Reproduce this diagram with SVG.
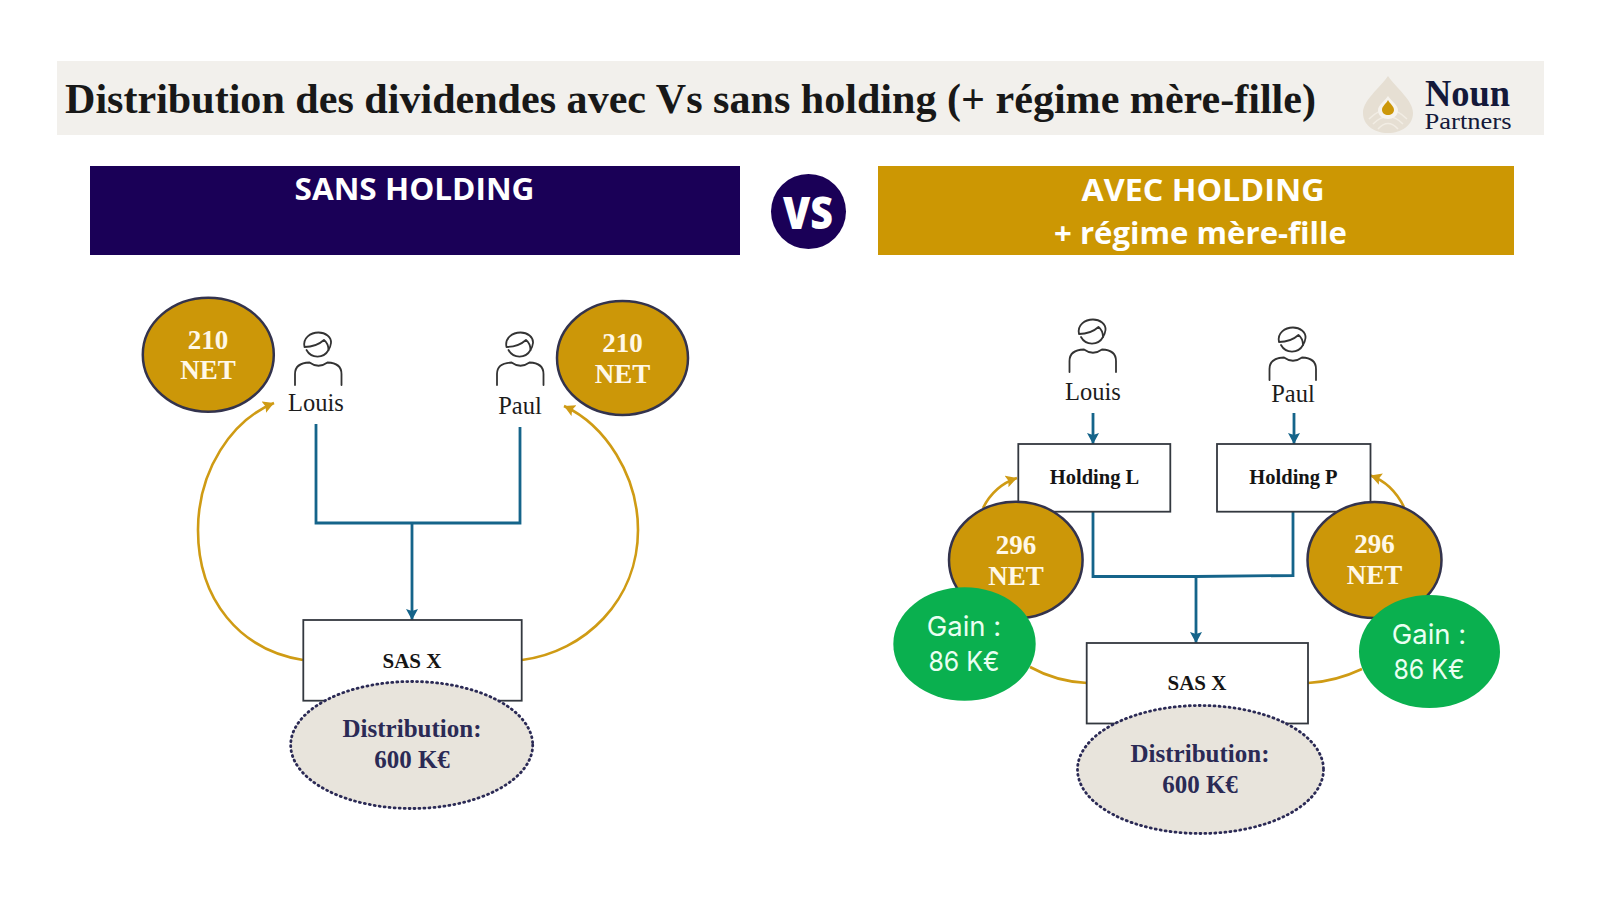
<svg xmlns="http://www.w3.org/2000/svg" xmlns:xlink="http://www.w3.org/1999/xlink" width="1600" height="900" viewBox="0 0 1600 900">
<style>
text{text-anchor:middle}
.ban{font-family:"Open Sans","Noto Sans",sans-serif;font-weight:700;font-size:31px;fill:#fff}
.ser{font-family:"Liberation Serif",serif}
.net{font-family:"Liberation Serif",serif;font-weight:700;font-size:27px;fill:#fff8e8}
.gold{fill:#cc9708;stroke:#33334d;stroke-width:2.500}
.green{fill:#0ab04f}
.gain{font-family:"Inter","Noto Sans",sans-serif;font-size:27.500px;fill:#eafff2}
.box{fill:#fff;stroke:#33383f;stroke-width:1.800}
.boxt{font-family:"Liberation Serif",serif;font-weight:700;fill:#151515}
.dist{fill:#e8e4dc;stroke:#2b2a55;stroke-width:2.800;stroke-dasharray:1 4;stroke-linecap:round}
.distt{font-family:"Liberation Serif",serif;font-weight:700;font-size:25px;fill:#2b2a55}
.name{font-family:"Liberation Serif",serif;font-size:24.500px;fill:#1c1c1c}
.b{fill:none;stroke:#15648a;stroke-width:2.800}
.y{fill:none;stroke:#cf9b14;stroke-width:2.600}
.p{fill:none;stroke:#333;stroke-width:1.800;stroke-linecap:round;stroke-linejoin:round}
</style>
<defs>
<marker id="ab" markerUnits="userSpaceOnUse" markerWidth="14" markerHeight="14" refX="11" refY="6" orient="auto"><path d="M0 0L11 6L0 12L2 6Z" fill="#15648a"/></marker>
<marker id="ay" markerUnits="userSpaceOnUse" markerWidth="14" markerHeight="14" refX="11" refY="6" orient="auto"><path d="M0 0L11 6L0 12L2 6Z" fill="#cf9b14"/></marker>
<g id="person" class="p">
<path d="M-11 4A12.500 12.500 0 0 0 11 4"/>
<path d="M-13 1C-15 -8 -7 -13.500 1 -13.500C8 -13.500 14 -9 13.500 -3C13 1 11 4 11 4C11 -1 9 -4 6.500 -6C2 -2 -6 1 -13 1Z"/>
<path d="M-22.500 39V28Q-22.500 17 -8 16.500Q1 23 10 16.500Q24 17 24 28V39"/>
</g>
</defs>
<rect width="1600" height="900" fill="#fff"/>

<g id="header">
<rect x="57" y="61" width="1487" height="74" fill="#f2f0ec"/>
<text class="ser" x="690.500" y="113" font-size="42" font-weight="700" fill="#181818" textLength="1251" lengthAdjust="spacingAndGlyphs">Distribution des dividendes avec Vs sans holding (+ régime mère-fille)</text>
</g>
<g id="logo">
<path d="M1388 76C1380 88 1363 100 1363 113C1363 125 1374 133 1388 133C1402 133 1413 125 1413 113C1413 100 1396 88 1388 76Z" fill="#e6dfd3"/>
<path d="M1369 119Q1388 100 1407 119M1373 124Q1388 109 1403 124M1378 129Q1388 118 1398 129" fill="none" stroke="#f2ede4" stroke-width="1.500"/>
<path d="M1388 96C1385 101 1378 105 1378 110C1378 116 1383 119 1388 119C1393 119 1398 116 1398 110C1398 105 1391 101 1388 96Z" fill="#f6f3ee"/>
<path d="M1388 100C1386 104 1382 106 1382 110C1382 113 1385 115 1388 115C1391 115 1394 113 1394 110C1394 106 1390 104 1388 100Z" fill="#cc9708"/>
<text class="ser" x="1467.500" y="106" font-size="37" font-weight="700" fill="#14193a" textLength="85" lengthAdjust="spacingAndGlyphs">Noun</text>
<text class="ser" x="1468" y="129" font-size="24" fill="#14193a" textLength="87" lengthAdjust="spacingAndGlyphs">Partners</text>
</g>

<g id="banner-sans">
<rect x="90" y="166" width="650" height="89" fill="#1a0057"/>
<text class="ban" x="414.500" y="200" textLength="240" lengthAdjust="spacingAndGlyphs">SANS HOLDING</text>
</g>
<g id="vs">
<circle cx="808.500" cy="211.500" r="37.500" fill="#1a0057"/>
<text x="808" y="229" font-family="Open Sans, sans-serif" font-weight="800" font-size="45" fill="#fff" textLength="50" lengthAdjust="spacingAndGlyphs">VS</text>
</g>
<g id="banner-avec">
<rect x="878" y="166" width="636" height="89" fill="#cc9703"/>
<text class="ban" x="1203" y="201" textLength="243" lengthAdjust="spacingAndGlyphs">AVEC HOLDING</text>
<text class="ban" x="1200.500" y="244" textLength="293" lengthAdjust="spacingAndGlyphs">+ régime mère-fille</text>
</g>

<g id="connectors">
<path class="b" d="M316 424V523H520V427"/>
<path class="b" d="M412 523V620" marker-end="url(#ab)"/>
<path class="y" d="M303 660C240 650 198 600 198 530C198 470 232 420 274 403" marker-end="url(#ay)"/>
<path class="y" d="M522 660C585 652 638 600 638 530C638 475 605 425 564 406" marker-end="url(#ay)"/>
<path class="b" d="M1093 413V444" marker-end="url(#ab)"/>
<path class="b" d="M1294 413V444" marker-end="url(#ab)"/>
<path class="b" d="M1093 512V576.500H1196L1293 575.500V512"/>
<path class="b" d="M1196 576V643" marker-end="url(#ab)"/>
<path class="y" d="M983 508C990 494 1002 483 1017 478" marker-end="url(#ay)"/>
<path class="y" d="M1404 507C1397 493 1386 481 1370.500 475.500" marker-end="url(#ay)"/>
<path class="y" d="M1030 667C1048 677 1066 682 1087 683"/>
<path class="y" d="M1362 669C1345 677 1328 682 1308 683"/>
</g>

<g id="louis-left"><use href="#person" x="317.500" y="346"/><text class="name" x="316" y="411">Louis</text></g>
<g id="paul-left"><use href="#person" x="519.500" y="346"/><text class="name" x="520" y="414">Paul</text></g>
<g id="net-left1"><ellipse class="gold" cx="208.300" cy="354.700" rx="65.500" ry="57"/><text class="net" x="208" y="349">210</text><text class="net" x="208" y="379">NET</text></g>
<g id="net-left2"><ellipse class="gold" cx="622.500" cy="358" rx="65.500" ry="57"/><text class="net" x="622.500" y="352">210</text><text class="net" x="622.500" y="383">NET</text></g>
<g id="sas-left"><rect class="box" x="303.300" y="620" width="218.400" height="80.700"/><text class="boxt" x="412" y="668" font-size="21">SAS X</text></g>
<g id="dist-left"><ellipse class="dist" cx="411.700" cy="745" rx="121" ry="63.500"/><text class="distt" x="412" y="737">Distribution:</text><text class="distt" x="412" y="768">600 K€</text></g>

<g id="louis-right"><use href="#person" x="1092" y="333"/><text class="name" x="1093" y="400">Louis</text></g>
<g id="paul-right"><use href="#person" x="1292" y="341"/><text class="name" x="1293" y="402">Paul</text></g>
<g id="holding-l"><rect class="box" x="1018.300" y="444" width="152" height="67.700"/><text class="boxt" x="1094.500" y="483.500" font-size="20.500">Holding L</text></g>
<g id="holding-p"><rect class="box" x="1217" y="444" width="153.500" height="67.700"/><text class="boxt" x="1293.500" y="483.500" font-size="20.500">Holding P</text></g>
<g id="net-right1"><ellipse class="gold" cx="1015.800" cy="560" rx="66.800" ry="58.300"/><text class="net" x="1016" y="554">296</text><text class="net" x="1016" y="585">NET</text></g>
<g id="net-right2"><ellipse class="gold" cx="1374.500" cy="560" rx="67" ry="58"/><text class="net" x="1374.500" y="553">296</text><text class="net" x="1374.500" y="584">NET</text></g>
<g id="gain-left"><ellipse class="green" cx="964.500" cy="644" rx="71.200" ry="56.700"/><text class="gain" x="964" y="636">Gain :</text><text class="gain" x="964" y="671" textLength="71" lengthAdjust="spacingAndGlyphs">86 K€</text></g>
<g id="gain-right"><ellipse class="green" cx="1429.500" cy="651.500" rx="70.500" ry="56.500"/><text class="gain" x="1429" y="644">Gain :</text><text class="gain" x="1429" y="679" textLength="71" lengthAdjust="spacingAndGlyphs">86 K€</text></g>
<g id="sas-right"><rect class="box" x="1086.700" y="643" width="221.300" height="80.500"/><text class="boxt" x="1197" y="690" font-size="21">SAS X</text></g>
<g id="dist-right"><ellipse class="dist" cx="1200.500" cy="769.500" rx="123" ry="64"/><text class="distt" x="1200" y="762">Distribution:</text><text class="distt" x="1200" y="793">600 K€</text></g>
</svg>
